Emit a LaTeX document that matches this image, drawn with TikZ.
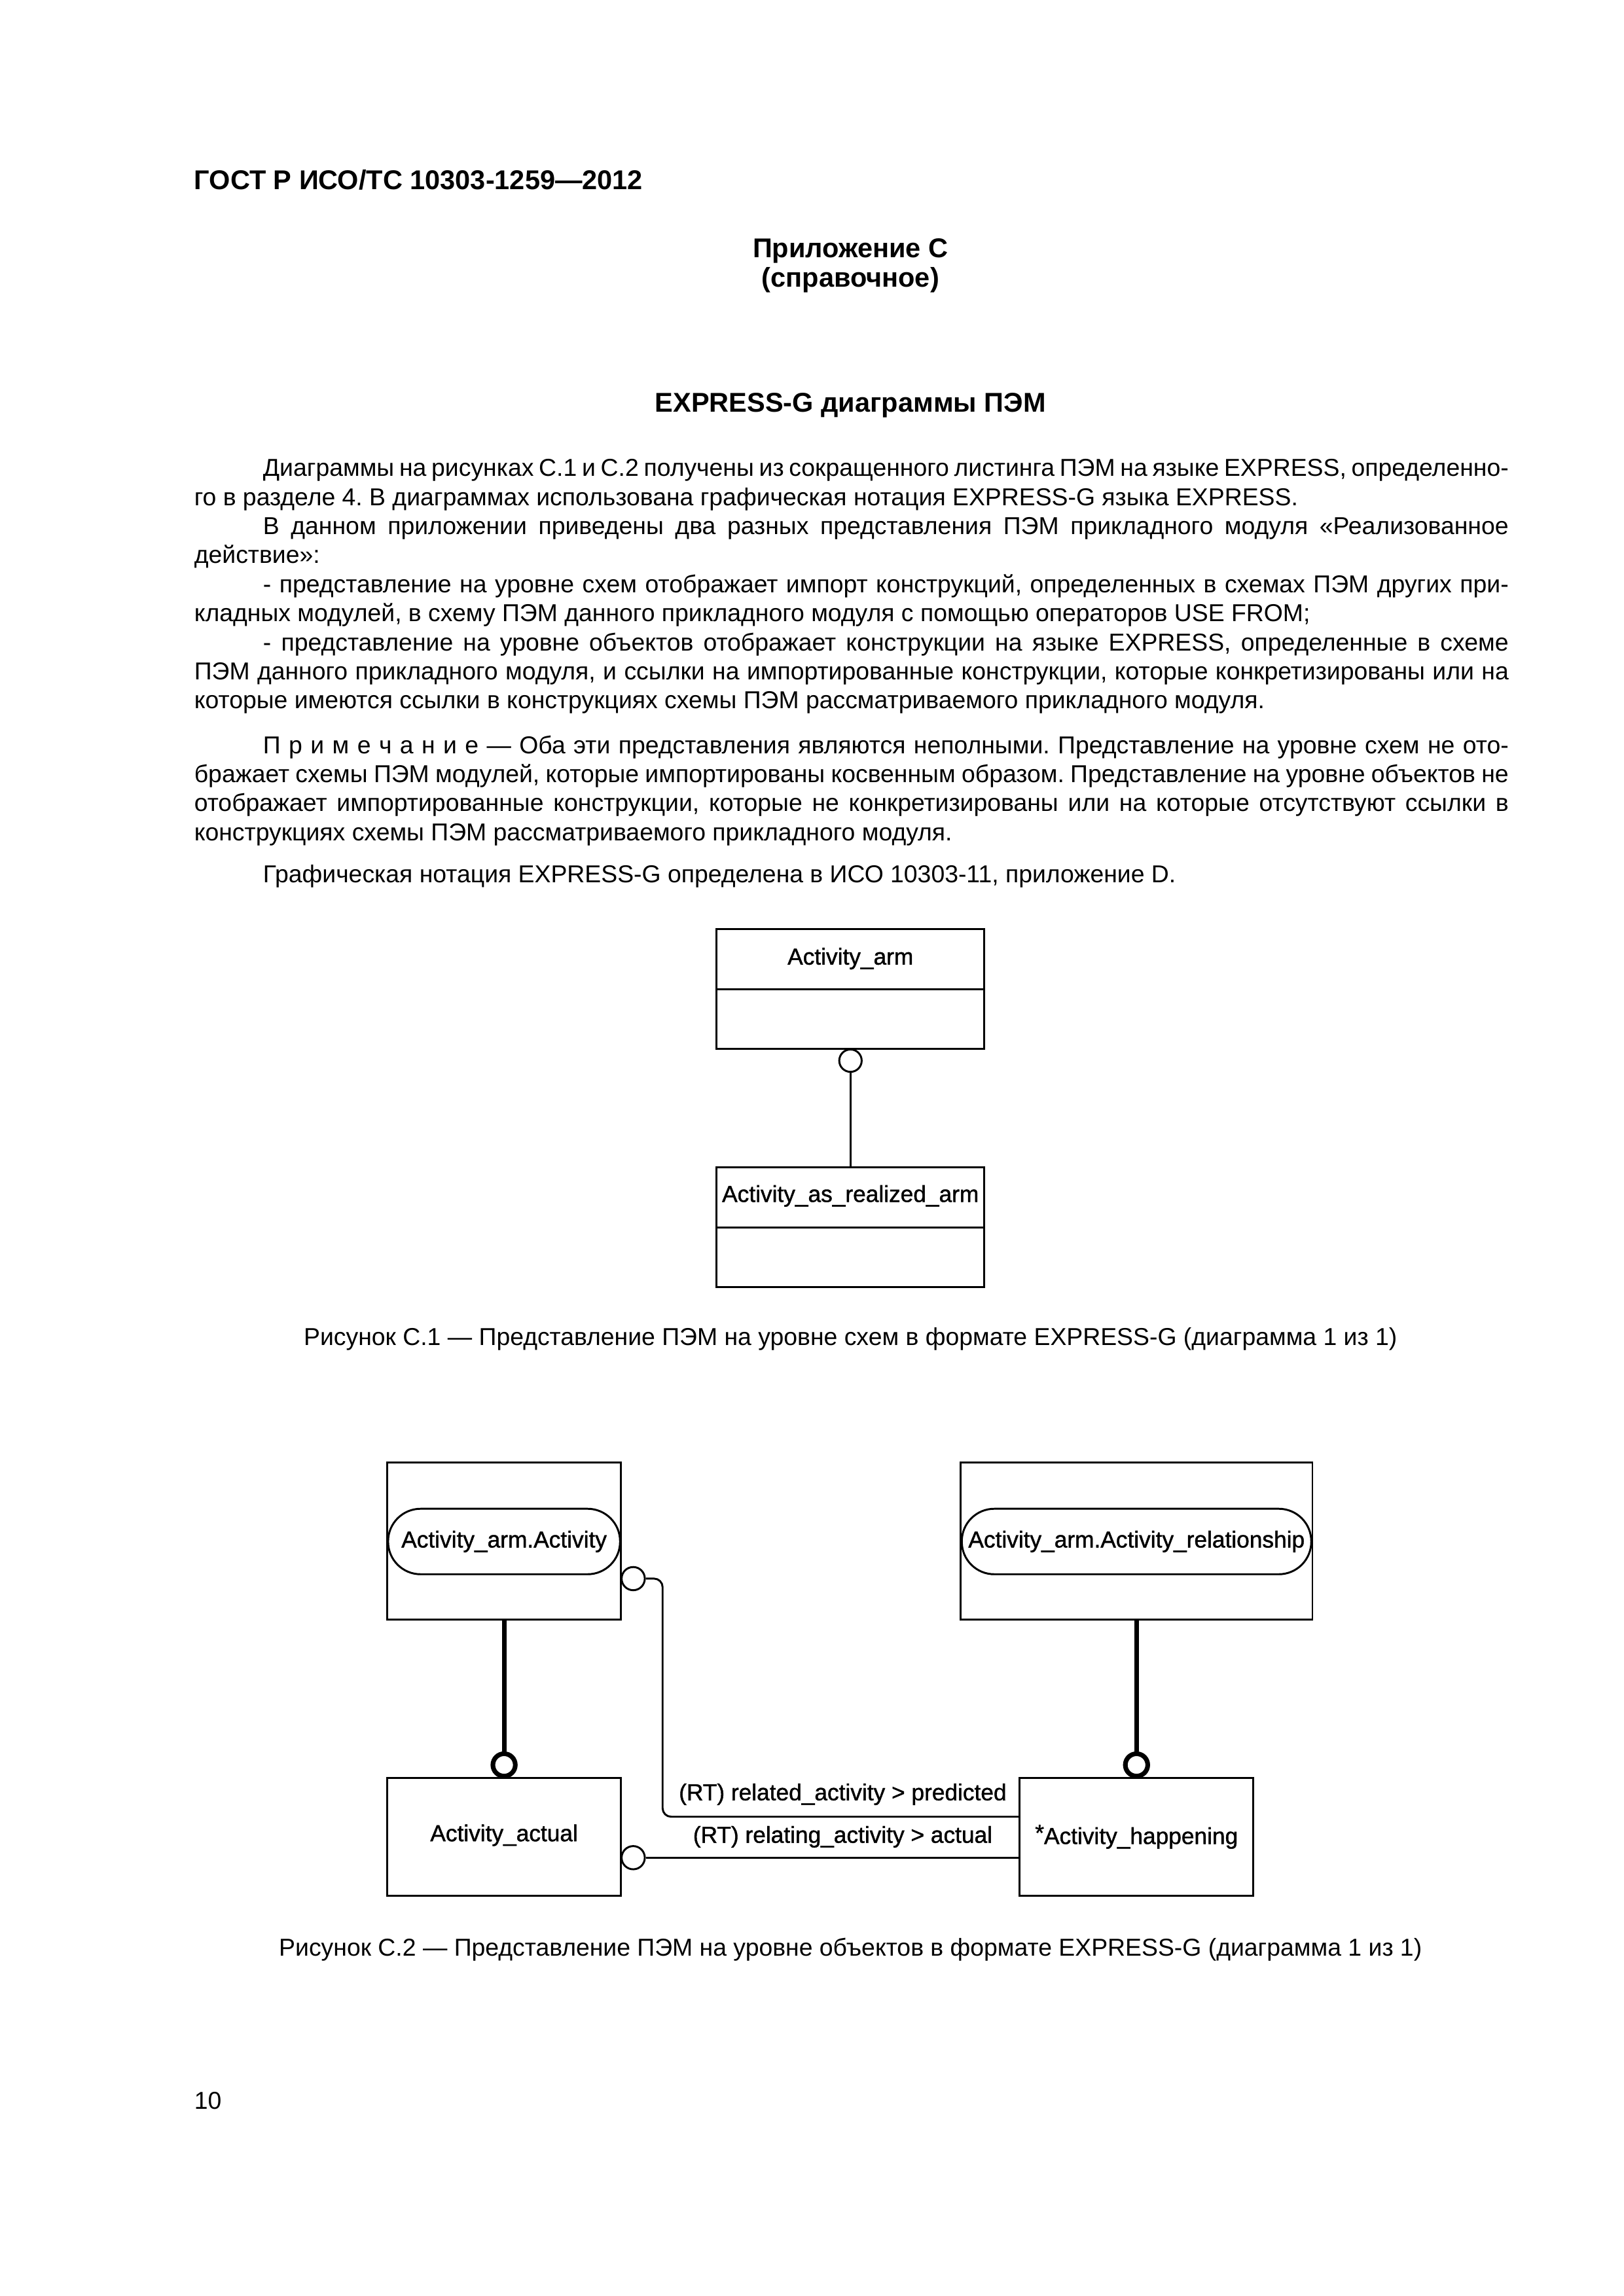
\documentclass[tikz,border=0pt]{standalone}
\usepackage{fontspec}
\setmainfont{Liberation Sans}
\newfontfamily\diagfam[FakeBold=1.2]{Liberation Sans}
\frenchspacing
\newcommand\bodyfont{\fontsize{9.0pt}{10.7pt}\selectfont}
\newcommand\hdrfont{\fontsize{10pt}{12pt}\selectfont\bfseries}
\newcommand\diagfont{\diagfam\fontsize{8.5pt}{10pt}\selectfont}
\newcommand\JLine[1]{\hbox to \hsize{#1}}
\newcommand\JLineI[1]{\hbox to \hsize{\hskip 8.9mm #1}}
\newcommand\LastL[1]{\hbox to \hsize{#1\hfil}}
\newcommand\LastLI[1]{\hbox to \hsize{\hskip 8.9mm #1\hfil}}
\begin{document}
\begin{tikzpicture}[x=1mm,y=-1mm,
  box/.style={draw, rectangle, line width=0.25mm, inner sep=0pt},
  dtext/.style={font=\diagfont, inner sep=0pt},
  conn/.style={line width=0.25mm},
  thickconn/.style={line width=0.6mm},
  ocirc/.style={draw, circle, line width=0.25mm, inner sep=0pt, minimum size=3mm, fill=white},
  tcirc/.style={draw, circle, line width=0.6mm, inner sep=0pt, minimum size=2.9mm, fill=white},
  ent/.style={draw, rectangle, rounded corners=4.2mm, line width=0.25mm, inner sep=0pt, minimum height=8.47mm, font=\diagfont},
  txt/.style={inner sep=0pt, font=\bodyfont},
  hdr/.style={inner sep=0pt, font=\hdrfont}
]
\fill[white] (0,0) rectangle (210,297);
\useasboundingbox (0,0) rectangle (210,297);

% headers
\node[hdr, anchor=base west] (gost) at (25.06,24.5) {ГОСТ Р ИСО/ТС 10303-1259—2012};
\node[hdr, anchor=base] (app) at (110,33.3) {Приложение C};
\node[hdr, anchor=base] (spr) at (110,37.1) {(справочное)};
\node[hdr, anchor=base] (ttl) at (110,53.3) {EXPRESS-G диаграммы ПЭМ};

% body text
\node[txt, anchor=base west] (body) at (25.06,61.6) {\vtop{\hsize=170mm \baselineskip=10.7pt
\JLineI{Диаграммы на рисунках C.1 и C.2 получены из сокращенного листинга ПЭМ на языке EXPRESS, определенно-}
\LastL{го в разделе 4. В диаграммах использована графическая нотация EXPRESS-G языка EXPRESS.}
\JLineI{В данном приложении приведены два разных представления ПЭМ прикладного модуля «Реализованное}
\LastL{действие»:}
\JLineI{- представление на уровне схем отображает импорт конструкций, определенных в схемах ПЭМ других при-}
\LastL{кладных модулей, в схему ПЭМ данного прикладного модуля с помощью операторов USE FROM;}
\JLineI{- представление на уровне объектов отображает конструкции на языке EXPRESS, определенные в схеме}
\JLine{ПЭМ данного прикладного модуля, и ссылки на импортированные конструкции, которые конкретизированы или на}
\LastL{которые имеются ссылки в конструкциях схемы ПЭМ рассматриваемого прикладного модуля.}
}};
\node[txt, anchor=base west] (note) at (25.06,97.45) {\vtop{\hsize=170mm \baselineskip=10.7pt
\JLineI{П р и м е ч а н и е — Оба эти представления являются неполными. Представление на уровне схем не ото-}
\JLine{бражает схемы ПЭМ модулей, которые импортированы косвенным образом. Представление на уровне объектов не}
\JLine{отображает импортированные конструкции, которые не конкретизированы или на которые отсутствуют ссылки в}
\LastL{конструкциях схемы ПЭМ рассматриваемого прикладного модуля.}
}};
\node[txt, anchor=base west] (graf) at (25.06,114.2) {\vtop{\hsize=170mm
\LastLI{Графическая нотация EXPRESS-G определена в ИСО 10303-11, приложение D.}
}};

% figure C.1
\node[box, minimum width=34.63mm, minimum height=15.5mm] (arm) at (110,127.95) {};
\draw[conn] (arm.west) -- (arm.east);
\node[dtext] (armt) at (110,124.0) {Activity\_arm};
\node[box, minimum width=34.63mm, minimum height=15.5mm] (real) at (110,158.75) {};
\draw[conn] (real.west) -- (real.east);
\node[dtext] (realt) at (110,154.7) {Activity\_as\_realized\_arm};
\node[ocirc, minimum size=2.9mm] (c1) at (110,137.2) {};
\draw[conn] (c1.south) -- (real.north);
\node[txt, anchor=base] (cap1) at (110,174.0) {Рисунок C.1 — Представление ПЭМ на уровне схем в формате EXPRESS-G (диаграмма 1 из 1)};

% figure C.2
\node[box, minimum width=30.25mm, minimum height=20.3mm] (boxA) at (65.2,199.35) {};
\node[ent, minimum width=30.0mm] (entA) at (65.2,199.4) {Activity\_arm.Activity};
\node[box, minimum width=45.5mm, minimum height=20.3mm] (boxB) at (147.0,199.35) {};
\node[ent, minimum width=45.2mm] (entB) at (147.0,199.4) {Activity\_arm.Activity\_relationship};
\node[box, minimum width=30.25mm, minimum height=15.25mm] (boxC) at (65.2,237.6) {};
\node[dtext] (txtC) at (65.2,237.4) {Activity\_actual};
\node[box, minimum width=30.25mm, minimum height=15.25mm] (boxD) at (147.0,237.6) {};
\node[dtext] (txtD) at (147.0,237.6) {\raisebox{.14em}{*}Activity\_happening};
\node[tcirc] (tcA) at (65.2,228.3) {};
\node[tcirc] (tcB) at (147.0,228.3) {};
\draw[thickconn] (boxA.south) -- (tcA.north);
\draw[thickconn] (boxB.south) -- (tcB.north);
\node[ocirc] (oA) at (81.9,204.2) {};
\node[ocirc] (oC) at (81.9,240.3) {};
\coordinate (k1) at (85.7,204.2);
\coordinate (k2) at (85.7,235.0);
\draw[conn, rounded corners=1.1mm] (oA.east) -- (k1) -- (k2) -- (boxD.west |- k2);
\draw[conn] (oC.east) -- (boxD.west |- oC.east);
\node[dtext] (lab1) at (109.0,232.1) {(RT) related\_activity > predicted};
\node[dtext] (lab2) at (109.0,237.6) {(RT) relating\_activity > actual};
\node[txt, anchor=base] (cap2) at (110,253.0) {Рисунок C.2 — Представление ПЭМ на уровне объектов в формате EXPRESS-G (диаграмма 1 из 1)};

% page number
\node[txt, anchor=base west] (pg) at (25.06,272.8) {10};
\end{tikzpicture}
\end{document}
